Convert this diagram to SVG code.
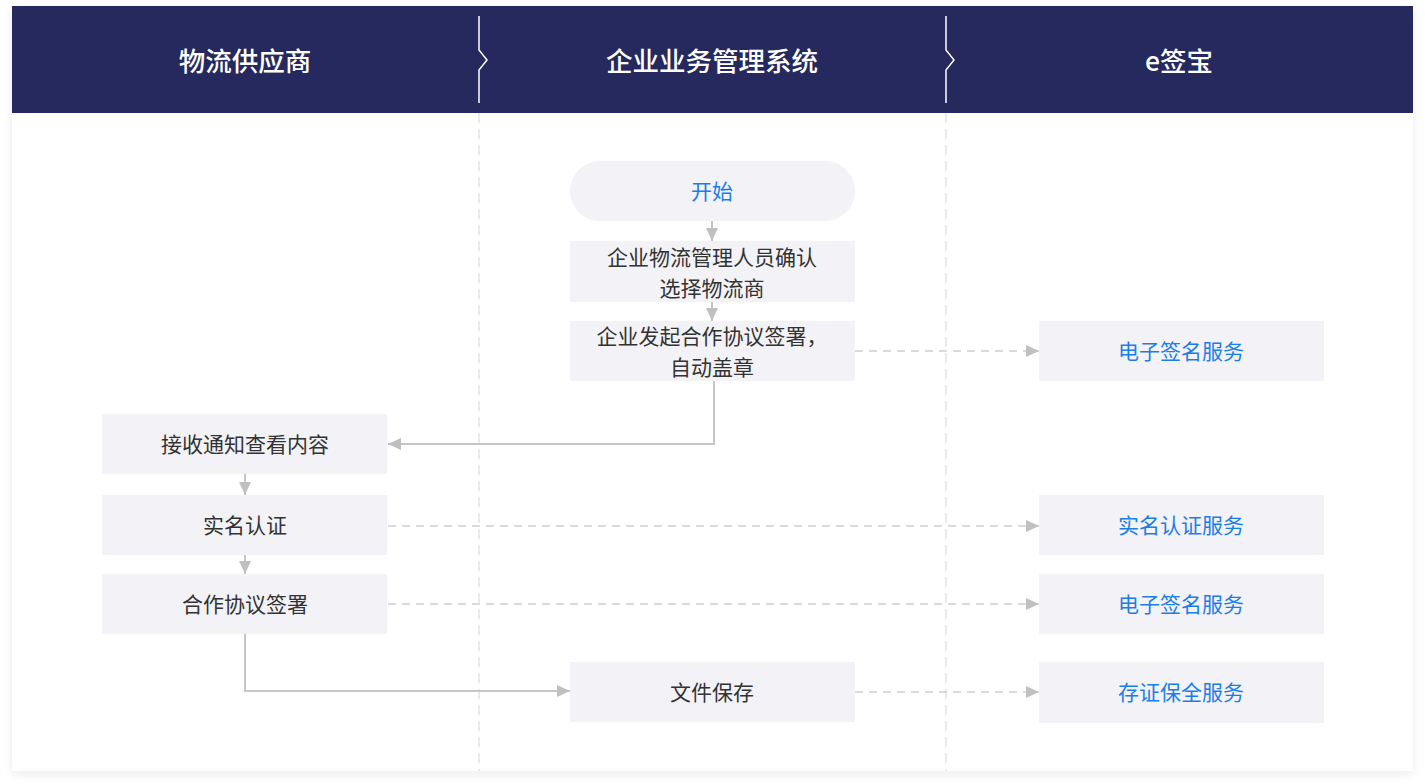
<svg xmlns="http://www.w3.org/2000/svg" width="1425" height="784" viewBox="0 0 1425 784">
<style>
.hd{font-family:"Noto Sans CJK SC","Noto Sans",sans-serif;font-size:26.5px;font-weight:500;fill:#ffffff;text-anchor:middle;dominant-baseline:central}
.t{font-family:"Noto Sans CJK SC","Noto Sans",sans-serif;font-size:21px;fill:#333333;text-anchor:middle;dominant-baseline:central}
.b{fill:#1a7ee6}
.box{fill:#f2f2f7}
.sol{fill:none;stroke:#c6c6c6;stroke-width:2}
.dsh{fill:none;stroke:#d0d0d0;stroke-width:1.5;stroke-dasharray:8 6}
.lane{stroke:#e3e3e3;stroke-width:1.5;stroke-dasharray:10 6}
</style>
<defs>
<filter id="sh" x="-5%" y="-5%" width="110%" height="110%">
<feDropShadow dx="0" dy="3" stdDeviation="5" flood-color="#000000" flood-opacity="0.08"/>
</filter>
<marker id="ah" viewBox="0 0 13 12" refX="13" refY="6" markerWidth="13" markerHeight="12" markerUnits="userSpaceOnUse" orient="auto">
<path d="M0,0 L13,6 L0,12 z" fill="#c0c0c0"/>
</marker>
</defs>
<rect x="0" y="0" width="1425" height="784" fill="#ffffff"/>
<rect x="12" y="6" width="1401" height="765" fill="#ffffff" filter="url(#sh)"/>
<g id="header">
<rect x="12" y="6" width="1401" height="107" fill="#25295e"/>
<path d="M479,16 L479,50 L487,60 L479,70 L479,103" fill="none" stroke="#ffffff" stroke-width="1.5"/>
<path d="M946,16 L946,50 L954,60 L946,70 L946,103" fill="none" stroke="#ffffff" stroke-width="1.5"/>
<text class="hd" x="245" y="59">物流供应商</text>
<text class="hd" x="712" y="59">企业业务管理系统</text>
<text class="hd" x="1179" y="59">e签宝</text>
</g>
<g id="lanes">
<line class="lane" x1="479" y1="113" x2="479" y2="771"/>
<line class="lane" x1="946" y1="113" x2="946" y2="771"/>
</g>
<g id="connectors">
<path class="sol" d="M712,221 L712,241" marker-end="url(#ah)"/>
<path class="sol" d="M712,302 L712,321" marker-end="url(#ah)"/>
<path class="sol" d="M714,381 L714,444 L388,444" marker-end="url(#ah)"/>
<path class="sol" d="M245,474 L245,495" marker-end="url(#ah)"/>
<path class="sol" d="M245,555 L245,574" marker-end="url(#ah)"/>
<path class="sol" d="M245,634 L245,691 L570,691" marker-end="url(#ah)"/>
<path class="dsh" d="M855,351 L1039,351" marker-end="url(#ah)"/>
<path class="dsh" d="M388,526 L1039,526" marker-end="url(#ah)"/>
<path class="dsh" d="M388,604 L1039,604" marker-end="url(#ah)"/>
<path class="dsh" d="M855,692 L1039,692" marker-end="url(#ah)"/>
</g>
<g id="n-start">
<rect class="box" x="570" y="161" width="285" height="60" rx="30"/>
<text class="t b" x="712" y="190">开始</text>
</g>
<g id="n-confirm">
<rect class="box" x="570" y="241" width="285" height="61"/>
<text class="t" x="712" y="256">企业物流管理人员确认</text>
<text class="t" x="712" y="287">选择物流商</text>
</g>
<g id="n-initiate">
<rect class="box" x="570" y="321" width="285" height="60"/>
<text class="t" x="712" y="335">企业发起合作协议签署，</text>
<text class="t" x="712" y="366">自动盖章</text>
</g>
<g id="n-esign1">
<rect class="box" x="1039" y="321" width="285" height="60"/>
<text class="t b" x="1181" y="350">电子签名服务</text>
</g>
<g id="n-receive">
<rect class="box" x="102" y="414" width="285" height="60"/>
<text class="t" x="245" y="443">接收通知查看内容</text>
</g>
<g id="n-realname">
<rect class="box" x="102" y="495" width="285" height="60"/>
<text class="t" x="245" y="524">实名认证</text>
</g>
<g id="n-sign">
<rect class="box" x="102" y="574" width="285" height="60"/>
<text class="t" x="245" y="603">合作协议签署</text>
</g>
<g id="n-realname-svc">
<rect class="box" x="1039" y="495" width="285" height="60"/>
<text class="t b" x="1181" y="524">实名认证服务</text>
</g>
<g id="n-esign2">
<rect class="box" x="1039" y="574" width="285" height="60"/>
<text class="t b" x="1181" y="603">电子签名服务</text>
</g>
<g id="n-save">
<rect class="box" x="570" y="662" width="285" height="60"/>
<text class="t" x="712" y="691">文件保存</text>
</g>
<g id="n-evidence">
<rect class="box" x="1039" y="662" width="285" height="61"/>
<text class="t b" x="1181" y="691">存证保全服务</text>
</g>
</svg>
